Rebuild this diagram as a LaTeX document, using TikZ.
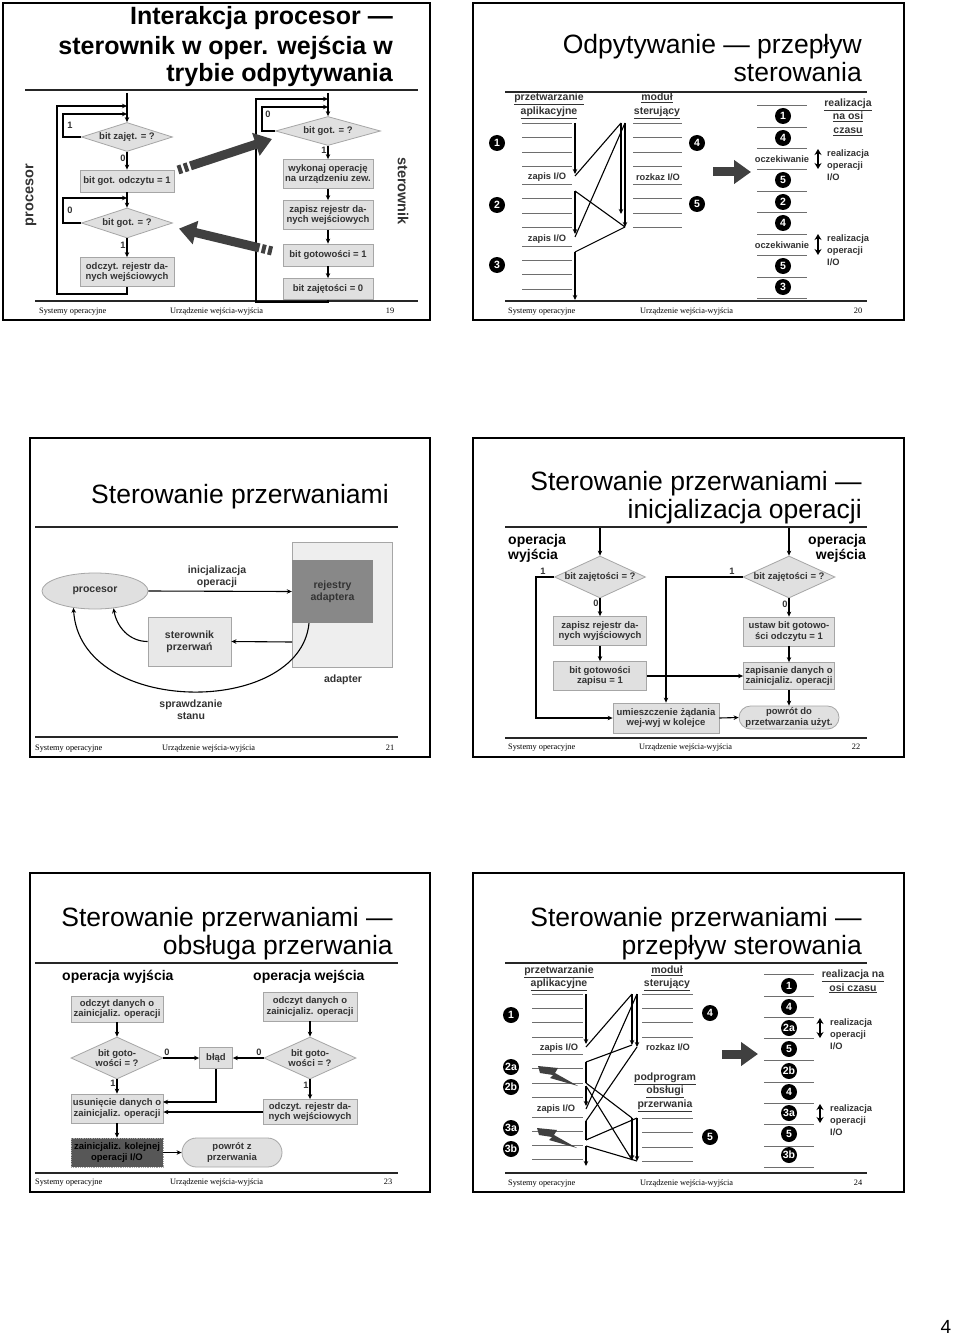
\documentclass[tikz,border=0pt]{standalone}
\usepackage{fontspec}
\setmainfont{Liberation Sans}
\newfontfamily\serifft{Liberation Serif}
\usetikzlibrary{arrows.meta}
\usetikzlibrary{shapes.geometric}
\usetikzlibrary{shapes.misc}

\definecolor{boxfill}{HTML}{E0E0E0}
\definecolor{boxline}{HTML}{A6A6A6}
\definecolor{txtgray}{HTML}{333333}
\definecolor{bigfill}{HTML}{404040}
\definecolor{regfill}{HTML}{888888}
\definecolor{adapfill}{HTML}{EEEEEE}
\definecolor{darkfill}{HTML}{575757}
\definecolor{thinline}{HTML}{6E6E6E}

\newcommand{\ttlfont}{\fontsize{26.5}{28}\selectfont}
\newcommand{\ttlbfont}{\fontsize{25}{28}\selectfont\bfseries}
\newcommand{\ftfont}{\serifft\fontsize{8.3}{9}\selectfont}
\newcommand{\bxfont}{\fontsize{9.5}{10.5}\selectfont\bfseries}
\newcommand{\lblfont}{\fontsize{9.3}{10}\selectfont\bfseries}
\newcommand{\notefont}{\fontsize{9.3}{12}\selectfont\bfseries}
\newcommand{\dotfont}{\fontsize{10.5}{11}\selectfont\bfseries}
\newcommand{\hdrfont}{\fontsize{10.5}{13.5}\selectfont\bfseries}
\newcommand{\sidefont}{\fontsize{14.5}{16}\selectfont\bfseries}
\newcommand{\opfont}{\fontsize{14}{15}\selectfont\bfseries}
\newcommand{\midfont}{\fontsize{10.5}{12}\selectfont\bfseries}

\begin{document}
\begin{tikzpicture}[x=1pt, y=-1pt, >={Stealth[length=5pt, width=4.5pt]},
	frame/.style={draw, line width={1.4pt}},
	rule/.style={draw=black!85, line width={2.8pt}},
	ttl/.style={anchor=base east, inner sep=0pt, font=\ttlfont},
	ttlb/.style={anchor=base east, inner sep=0pt, font=\ttlbfont},
	foot/.style={anchor=base west, inner sep=0pt, font=\ftfont},
	footnum/.style={anchor=base, inner sep=0pt, font=\ftfont},
	box/.style={draw=boxline, fill=boxfill, line width={0.8pt}, inner sep=0pt, align=center, text=txtgray, font=\bxfont},
	dia/.style={box, diamond, aspect=3},
	pill/.style={box, rounded rectangle},
	lbl/.style={inner sep=1pt, text=txtgray, font=\lblfont},
	note/.style={anchor=west, align=left, inner sep=0pt, text=txtgray, font=\notefont},
	mid/.style={align=center, inner sep=0pt, text=txtgray, font=\midfont},
	flow/.style={->, draw, line width={1.1pt}},
	wire/.style={draw, line width={1.1pt}},
	big/.style={draw=bigfill, line width={9pt}, -{Triangle[length=17pt, width=23pt]}},
	bigtail/.style={draw=bigfill, line width={9pt}, dash pattern=on 4pt off 2.5pt},
	tline/.style={draw=thinline, line width={0.7pt}},
	dot/.style={circle, fill=black, text=white, inner sep=0pt, minimum size=16pt, font=\dotfont},
	hdr/.style={align=center, inner sep=0pt, text=txtgray, font=\hdrfont},
	dbl/.style={draw, line width={1.6pt}, {Stealth[length=6pt, width=7pt]}-{Stealth[length=6pt, width=7pt]}},
	side/.style={inner sep=0pt, text=txtgray, font=\sidefont},
	op/.style={inner sep=0pt, font=\opfont},
]
	\fill[white] (0,0) rectangle (960,1340);
	\useasboundingbox (0,0) rectangle (960,1340);

	% slajd 19
	\draw[frame] (3,3) rectangle (430,320);
	\node[ttlb] (s19-t1) at (393,25) {Interakcja procesor —};
	\node[ttlb] (s19-t2) at (393,55) {sterownik w oper. wejścia w};
	\node[ttlb] (s19-t3) at (393,82) {trybie odpytywania};
	\draw[rule] (25,90) -- (418,90);
	\draw[rule] (35,301) -- (418,301);
	\node[foot] (s19-f1) at (39,313) {Systemy operacyjne};
	\node[foot] (s19-f2) at (170,313) {Urządzenie wejścia-wyjścia};
	\node[footnum] (s19-f3) at (390,313) {19};
	\node[side, rotate=90] (s19-proc) at (31,195) {procesor};
	\node[side, rotate=-90] (s19-ster) at (403,191) {sterownik};
	\node[dia, minimum width=91pt, minimum height=29pt] (s19-busy) at (127,137) {bit zajęt. = ?};
	\node[box, minimum width=94pt, minimum height=22pt] (s19-rdy) at (127,181) {bit got. odczytu = 1};
	\node[dia, minimum width=91pt, minimum height=30pt] (s19-got) at (127,223) {bit got. = ?};
	\node[box, minimum width=94pt, minimum height=29pt] (s19-read) at (127,272) {odczyt. rejestr da-\\nych wejściowych};
	\node[dia, minimum width=105pt, minimum height=29pt] (s19-cgot) at (328,131) {bit got. = ?};
	\node[box, minimum width=90pt, minimum height=29pt] (s19-exec) at (328,174) {wykonaj operację\\na urządzeniu zew.};
	\node[box, minimum width=90pt, minimum height=29pt] (s19-wreg) at (328,215) {zapisz rejestr da-\\nych wejściowych};
	\node[box, minimum width=90pt, minimum height=22pt] (s19-gset) at (328,255) {bit gotowości = 1};
	\node[box, minimum width=90pt, minimum height=21pt] (s19-bclr) at (328,289) {bit zajętości = 0};
	\coordinate (s19-top) at (127,93);
	\coordinate (s19-j0) at (127,106);
	\coordinate (s19-j1) at (127,114);
	\coordinate (s19-j2) at (127,198);
	\coordinate (s19-c0) at (57,294);
	\coordinate (s19-c1) at (63,114);
	\coordinate (s19-c2) at (63,198);
	\coordinate (s19-ctop) at (328,93);
	\coordinate (s19-cj0) at (328,99);
	\coordinate (s19-cj1) at (328,107);
	\coordinate (s19-cc0) at (256,302);
	\coordinate (s19-cc1) at (262,107);
	\draw[flow] (s19-top) -- (s19-busy.north);
	\draw[flow] (s19-busy.west) -| (s19-c1) -- (s19-j1);
	\draw[flow] (s19-busy.south) -- node[lbl, left, pos=0.35] {0} (s19-rdy.north);
	\draw[flow] (s19-rdy.south) -- (s19-got.north);
	\draw[flow] (s19-got.west) -| (s19-c2) -- (s19-j2);
	\draw[flow] (s19-got.south) -- node[lbl, left, pos=0.35] {1} (s19-read.north);
	\draw[flow] (s19-read.south) |- (s19-c0) |- (s19-j0);
	\node[lbl] (s19-l1) at (70,125) {1};
	\node[lbl] (s19-l0) at (70,210) {0};
	\draw[flow] (s19-ctop) -- (s19-cgot.north);
	\draw[flow] (s19-cgot.west) -| (s19-cc1) -- (s19-cj1);
	\draw[flow] (s19-cgot.south) -- node[lbl, left, pos=0.35] {1} (s19-exec.north);
	\draw[flow] (s19-exec.south) -- (s19-wreg.north);
	\draw[flow] (s19-wreg.south) -- (s19-gset.north);
	\draw[flow] (s19-gset.south) -- (s19-bclr.north);
	\draw[flow] (s19-bclr.south) |- (s19-cc0) |- (s19-cj0);
	\node[lbl] (s19-l2) at (268,114) {0};
	\coordinate (s19-a1t) at (178,170);
	\coordinate (s19-a1m) at (188,166.7);
	\coordinate (s19-a1s) at (190.4,165.9);
	\coordinate (s19-a1e) at (272,139);
	\coordinate (s19-a2t) at (272,251);
	\coordinate (s19-a2m) at (261.8,248.5);
	\coordinate (s19-a2s) at (259.4,247.9);
	\coordinate (s19-a2e) at (179,228.6);
	\draw[bigtail] (s19-a1t) -- (s19-a1m);
	\draw[big] (s19-a1s) -- (s19-a1e);
	\draw[bigtail] (s19-a2t) -- (s19-a2m);
	\draw[big] (s19-a2s) -- (s19-a2e);

	% slajd 20
	\draw[frame] (473,3) rectangle (904,320);
	\node[ttl] (s20-t1) at (862,54) {Odpytywanie — przepływ};
	\node[ttl] (s20-t2) at (862,82) {sterowania};
	\draw[rule] (505,92) -- (867,92);
	\draw[rule] (505,301) -- (867,301);
	\node[foot] (s20-f1) at (508,313) {Systemy operacyjne};
	\node[foot] (s20-f2) at (640,313) {Urządzenie wejścia-wyjścia};
	\node[footnum] (s20-f3) at (858,313) {20};
	\node[hdr] (s20-app) at (549,106) {\underline{przetwarzanie}\\\underline{aplikacyjne}};
	\node[hdr] (s20-mod) at (657,106) {\underline{moduł}\\\underline{sterujący}};
	\node[hdr] (s20-time) at (848,117) {\underline{realizacja}\\\underline{na osi}\\\underline{czasu}};
	\draw[tline] (522,123) -- (572,123);
	\draw[tline] (522,137) -- (572,137);
	\draw[tline] (522,152) -- (572,152);
	\draw[tline] (522,166) -- (572,166);
	\draw[tline] (522,184) -- (572,184);
	\draw[tline] (522,198) -- (572,198);
	\draw[tline] (522,213) -- (572,213);
	\draw[tline] (522,227) -- (572,227);
	\draw[tline] (522,246) -- (572,246);
	\draw[tline] (522,260) -- (572,260);
	\draw[tline] (522,274) -- (572,274);
	\draw[tline] (522,289) -- (572,289);
	\draw[tline] (633,123) -- (682,123);
	\draw[tline] (633,137) -- (682,137);
	\draw[tline] (633,152) -- (682,152);
	\draw[tline] (633,166) -- (682,166);
	\draw[tline] (633,184) -- (682,184);
	\draw[tline] (633,198) -- (682,198);
	\draw[tline] (633,213) -- (682,213);
	\draw[tline] (633,227) -- (682,227);
	\node[lbl] (s20-w1) at (547,177) {zapis I/O};
	\node[lbl] (s20-w2) at (547,239) {zapis I/O};
	\node[lbl] (s20-cmd) at (658,177) {rozkaz I/O};
	\node[dot] (s20-n1) at (497,143) {1};
	\node[dot] (s20-n2) at (497,205) {2};
	\node[dot] (s20-n3) at (497,265) {3};
	\node[dot] (s20-n4) at (697,143) {4};
	\node[dot] (s20-n5) at (697,204) {5};
	\coordinate (s20-a0) at (575,123);
	\coordinate (s20-a1) at (575,174);
	\coordinate (s20-a2) at (575,176);
	\coordinate (s20-a3) at (575,191);
	\coordinate (s20-a4) at (575,234);
	\coordinate (s20-a5) at (575,237);
	\coordinate (s20-a6) at (575,252);
	\coordinate (s20-a7) at (575,300);
	\coordinate (s20-m0) at (621,123);
	\coordinate (s20-m1) at (621,214);
	\coordinate (s20-m2) at (625,123);
	\coordinate (s20-m3) at (625,227);
	\draw[flow] (s20-a0) -- (s20-a1);
	\draw[wire] (s20-a2) -- (s20-m0);
	\draw[flow] (s20-m0) -- (s20-m1);
	\draw[wire] (s20-m3) -- (s20-a3);
	\draw[flow] (s20-a3) -- (s20-a4);
	\draw[wire] (s20-a5) -- (s20-m2);
	\draw[flow] (s20-m2) -- (s20-m3);
	\draw[wire] (s20-m3) -- (s20-a6);
	\draw[flow] (s20-a6) -- (s20-a7);
	\coordinate (s20-bs) at (713,172);
	\coordinate (s20-be) at (751,172);
	\draw[big] (s20-bs) -- (s20-be);
	\draw[tline] (757,105) -- (807,105);
	\draw[tline] (757,127) -- (807,127);
	\draw[tline] (757,148) -- (807,148);
	\draw[tline] (757,169) -- (807,169);
	\draw[tline] (757,191) -- (807,191);
	\draw[tline] (757,212) -- (807,212);
	\draw[tline] (757,234) -- (807,234);
	\draw[tline] (757,255) -- (807,255);
	\draw[tline] (757,277) -- (807,277);
	\draw[tline] (757,298) -- (807,298);
	\node[dot] (s20-r1) at (783,116) {1};
	\node[dot] (s20-r2) at (783,138) {4};
	\node[lbl] (s20-wait1) at (782,159) {oczekiwanie};
	\node[dot] (s20-r3) at (783,180) {5};
	\node[dot] (s20-r4) at (783,202) {2};
	\node[dot] (s20-r5) at (783,223) {4};
	\node[lbl] (s20-wait2) at (782,245) {oczekiwanie};
	\node[dot] (s20-r6) at (783,266) {5};
	\node[dot] (s20-r7) at (783,287) {3};
	\coordinate (s20-d1a) at (818,149);
	\coordinate (s20-d1b) at (818,169);
	\coordinate (s20-d2a) at (818,234);
	\coordinate (s20-d2b) at (818,255);
	\draw[dbl] (s20-d1a) -- (s20-d1b);
	\draw[dbl] (s20-d2a) -- (s20-d2b);
	\node[note] (s20-io1) at (827,165) {realizacja\\operacji\\I/O};
	\node[note] (s20-io2) at (827,250) {realizacja\\operacji\\I/O};

	% slajd 21
	\draw[frame] (30,438) rectangle (430,757);
	\node[ttl, anchor=base] (s21-t1) at (240,503) {Sterowanie przerwaniami};
	\draw[rule] (35,527) -- (398,527);
	\draw[rule] (35,737) -- (398,737);
	\node[foot] (s21-f1) at (35,750) {Systemy operacyjne};
	\node[foot] (s21-f2) at (162,750) {Urządzenie wejścia-wyjścia};
	\node[footnum] (s21-f3) at (390,750) {21};
	\node[ellipse, draw=boxline, fill=boxfill, line width={0.8pt}, minimum width=106pt, minimum height=36pt, inner sep=0pt, text=txtgray, font=\midfont] (s21-cpu) at (95,591) {procesor};
	\node[draw=boxline, fill=adapfill, line width={0.8pt}, minimum width=100pt, minimum height=125pt, inner sep=0pt] (s21-adp) at (342,604.5) {};
	\node[mid, fill=regfill, minimum width=81pt, minimum height=63pt, text=black!80] (s21-reg) at (332.5,591.5) {rejestry\\adaptera};
	\node[box, fill=black!9, font=\midfont, minimum width=83pt, minimum height=49pt] (s21-irq) at (189.5,641.5) {sterownik\\przerwań};
	\node[mid] (s21-adl) at (343,680) {adapter};
	\node[mid] (s21-ini) at (217,577) {inicjalizacja\\operacji};
	\node[mid] (s21-chk) at (191,710) {sprawdzanie\\stanu};
	\coordinate (s21-out) at (292,642);
	\draw[flow] (s21-cpu.east) -- (s21-reg.west);
	\draw[flow] (s21-out) -- (s21-irq.east);
	\draw[flow] (s21-irq.west) to[out=180, in=-80] (s21-cpu.-43);
	\draw[flow] ([xshift=-23.5pt]s21-reg.south) .. controls (300,717) and (80,717) .. (s21-cpu.-142);

	% slajd 22
	\draw[frame] (473,438) rectangle (904,757);
	\node[ttl] (s22-t1) at (862,490) {Sterowanie przerwaniami —};
	\node[ttl] (s22-t2) at (862,518) {inicjalizacja operacji};
	\draw[rule] (505,527) -- (867,527);
	\draw[rule] (505,738) -- (867,738);
	\node[foot] (s22-f1) at (508,749) {Systemy operacyjne};
	\node[foot] (s22-f2) at (639,749) {Urządzenie wejścia-wyjścia};
	\node[footnum] (s22-f3) at (856,749) {22};
	\node[op, anchor=west, align=left] (s22-out) at (508,548) {operacja\\wyjścia};
	\node[op, anchor=east, align=right] (s22-in) at (866,548) {operacja\\wejścia};
	\node[dia, aspect=2.2, minimum width=91pt, minimum height=42pt] (s22-lq) at (600,577) {bit zajętości = ?};
	\node[box, minimum width=93pt, minimum height=29pt] (s22-lwr) at (600,631) {zapisz rejestr da-\\nych wyjściowych};
	\node[box, minimum width=93pt, minimum height=29pt] (s22-lset) at (600,676) {bit gotowości\\zapisu = 1};
	\node[box, minimum width=106pt, minimum height=30pt] (s22-queue) at (666,718) {umieszczenie żądania\\wej-wyj w kolejce};
	\node[dia, aspect=2.2, minimum width=92pt, minimum height=42pt] (s22-rq) at (789,577) {bit zajętości = ?};
	\node[box, minimum width=91pt, minimum height=29pt] (s22-rset) at (789,631.5) {ustaw bit gotowo-\\ści odczytu = 1};
	\node[box, minimum width=91pt, minimum height=27pt] (s22-rsave) at (789,676) {zapisanie danych o\\zainicjaliz. operacji};
	\node[pill, minimum width=100pt, minimum height=23pt] (s22-ret) at (789,717.5) {powrót do\\przetwarzania użyt.};
	\coordinate (s22-lin) at (600,528);
	\coordinate (s22-rin) at (789,528);
	\coordinate (s22-c1) at (536,577);
	\draw[flow] (s22-lin) -- (s22-lq.north);
	\draw[flow] (s22-lq.west) -- (s22-c1) |- (s22-queue.west);
	\node[lbl] (s22-l1) at (543,571) {1};
	\draw[flow] (s22-lq.south) -- node[lbl, left, pos=0.3] {0} (s22-lwr.north);
	\draw[flow] (s22-lwr.south) -- (s22-lset.north);
	\draw[flow] (s22-lset.east) -- (s22-rsave.west);
	\draw[flow] (s22-rin) -- (s22-rq.north);
	\draw[flow] (s22-rq.west) -| (s22-queue.north);
	\node[lbl] (s22-l2) at (732,571) {1};
	\draw[flow] (s22-rq.south) -- node[lbl, left, pos=0.3] {0} (s22-rset.north);
	\draw[flow] (s22-rset.south) -- (s22-rsave.north);
	\draw[flow] (s22-rsave.south) -- (s22-ret.north);
	\draw[flow] (s22-queue.east) -- (s22-ret.west);

	% slajd 23
	\draw[frame] (30,873) rectangle (430,1192);
	\node[ttl] (s23-t1) at (393,926) {Sterowanie przerwaniami —};
	\node[ttl] (s23-t2) at (393,954) {obsługa przerwania};
	\draw[rule] (35,963) -- (398,963);
	\draw[rule] (35,1173) -- (398,1173);
	\node[foot] (s23-f1) at (35,1184) {Systemy operacyjne};
	\node[foot] (s23-f2) at (170,1184) {Urządzenie wejścia-wyjścia};
	\node[footnum] (s23-f3) at (388,1184) {23};
	\node[op, anchor=west] (s23-out) at (62,977) {operacja wyjścia};
	\node[op, anchor=west] (s23-in) at (253,977) {operacja wejścia};
	\node[box, minimum width=92pt, minimum height=26pt] (s23-lread) at (117,1009) {odczyt danych o\\zainicjaliz. operacji};
	\node[dia, aspect=2.2, minimum width=92pt, minimum height=42pt] (s23-lq) at (117,1058) {bit goto-\\wości = ?};
	\node[box, minimum width=33pt, minimum height=21pt] (s23-err) at (216,1058) {błąd};
	\node[box, minimum width=92pt, minimum height=29pt] (s23-ldel) at (117,1108.5) {usunięcie danych o\\zainicjaliz. operacji};
	\node[box, fill=darkfill, draw=gray!70, densely dotted, text=black, minimum width=92pt, minimum height=29pt] (s23-next) at (117,1152.5) {zainicjaliz. kolejnej\\operacji I/O};
	\node[pill, minimum width=100pt, minimum height=29pt] (s23-ret) at (232,1152.5) {powrót z\\przerwania};
	\node[box, minimum width=94pt, minimum height=29pt] (s23-rread) at (310,1006.5) {odczyt danych o\\zainicjaliz. operacji};
	\node[dia, aspect=2.2, minimum width=92pt, minimum height=42pt] (s23-rq) at (310,1058) {bit goto-\\wości = ?};
	\node[box, minimum width=94pt, minimum height=25pt] (s23-rget) at (310,1112) {odczyt. rejestr da-\\nych wejściowych};
	\coordinate (s23-d1) at (163,1102);
	\draw[flow] (s23-lread.south) -- (s23-lq.north);
	\draw[flow] (s23-lq.east) -- (s23-err.west);
	\node[lbl] (s23-l0) at (167,1052) {0};
	\draw[flow] (s23-lq.south) -- node[lbl, left, pos=0.3] {1} (s23-ldel.north);
	\draw[flow] (s23-err.south) |- (s23-d1);
	\draw[flow] (s23-rget.west) -- (s23-rget.west -| s23-ldel.east);
	\draw[flow] (s23-ldel.south) -- (s23-next.north);
	\draw[flow] (s23-next.east) -- (s23-ret.west);
	\draw[flow] (s23-rread.south) -- (s23-rq.north);
	\draw[flow] (s23-rq.west) -- (s23-err.east);
	\node[lbl] (s23-l2) at (259,1052) {0};
	\draw[flow] (s23-rq.south) -- node[lbl, left, pos=0.3] {1} (s23-rget.north);

	% slajd 24
	\draw[frame] (473,873) rectangle (904,1192);
	\node[ttl] (s24-t1) at (862,926) {Sterowanie przerwaniami —};
	\node[ttl] (s24-t2) at (862,954) {przepływ sterowania};
	\draw[rule] (505,963) -- (867,963);
	\draw[rule] (505,1173) -- (867,1173);
	\node[foot] (s24-f1) at (508,1185) {Systemy operacyjne};
	\node[foot] (s24-f2) at (640,1185) {Urządzenie wejścia-wyjścia};
	\node[footnum] (s24-f3) at (858,1185) {24};
	\node[hdr] (s24-app) at (559,978.5) {\underline{przetwarzanie}\\\underline{aplikacyjne}};
	\node[hdr] (s24-mod) at (667,978.5) {\underline{moduł}\\\underline{sterujący}};
	\node[hdr] (s24-isr) at (665,1092) {\underline{podprogram}\\\underline{obsługi}\\\underline{przerwania}};
	\node[hdr] (s24-time) at (853,981.5) {\underline{realizacja na}\\\underline{osi czasu}};
	\draw[tline] (532,994) -- (583,994);
	\draw[tline] (532,1008) -- (583,1008);
	\draw[tline] (532,1022) -- (583,1022);
	\draw[tline] (532,1037) -- (583,1037);
	\draw[tline] (532,1054) -- (583,1054);
	\draw[tline] (532,1068) -- (583,1068);
	\draw[tline] (532,1083) -- (583,1083);
	\draw[tline] (532,1097) -- (583,1097);
	\draw[tline] (532,1117) -- (583,1117);
	\draw[tline] (532,1131) -- (583,1131);
	\draw[tline] (532,1145) -- (583,1145);
	\draw[tline] (532,1159) -- (583,1159);
	\draw[tline] (642,994) -- (693,994);
	\draw[tline] (642,1008) -- (693,1008);
	\draw[tline] (642,1022) -- (693,1022);
	\draw[tline] (642,1037) -- (693,1037);
	\draw[tline] (642,1118) -- (693,1118);
	\draw[tline] (642,1132) -- (693,1132);
	\draw[tline] (642,1147) -- (693,1147);
	\draw[tline] (642,1161) -- (693,1161);
	\node[lbl] (s24-w1) at (559,1048) {zapis I/O};
	\node[lbl] (s24-w2) at (556,1109) {zapis I/O};
	\node[lbl] (s24-cmd) at (668,1047) {rozkaz I/O};
	\node[dot] (s24-n1) at (511,1015) {1};
	\node[dot] (s24-n2a) at (511,1067) {2a};
	\node[dot] (s24-n2b) at (511,1087) {2b};
	\node[dot] (s24-n3a) at (511,1128) {3a};
	\node[dot] (s24-n3b) at (511,1149) {3b};
	\node[dot] (s24-n4) at (710,1013) {4};
	\node[dot] (s24-n5) at (710,1137) {5};
	\fill[bigfill] (538,1066) -- (558,1068) -- (555,1073) -- (578,1086) -- (550,1078) -- (553,1075) -- (540,1073) -- cycle;
	\fill[bigfill] (537,1128) -- (557,1130) -- (554,1135) -- (577,1148) -- (549,1140) -- (552,1137) -- (539,1135) -- cycle;
	\coordinate (s24-a0) at (586,994);
	\coordinate (s24-a1) at (586,1044);
	\coordinate (s24-a2) at (586,1047);
	\coordinate (s24-a3) at (586,1062);
	\coordinate (s24-a4) at (586,1083);
	\coordinate (s24-a5) at (586,1086);
	\coordinate (s24-a6) at (586,1106);
	\coordinate (s24-a7) at (586,1109);
	\coordinate (s24-a8) at (586,1121);
	\coordinate (s24-a9) at (586,1140);
	\coordinate (s24-a10) at (586,1146);
	\coordinate (s24-a11) at (586,1166);
	\coordinate (s24-m0) at (632,994);
	\coordinate (s24-m1) at (632,1045);
	\coordinate (s24-m2) at (637,994);
	\coordinate (s24-m3) at (637,1047);
	\coordinate (s24-h0) at (632,1118);
	\coordinate (s24-h1) at (632,1160);
	\coordinate (s24-h2) at (637,1118);
	\coordinate (s24-h3) at (637,1161);
	\draw[flow] (s24-a0) -- (s24-a1);
	\draw[wire] (s24-a2) -- (s24-m0);
	\draw[flow] (s24-m0) -- (s24-m1);
	\draw[wire] (s24-m1) -- (s24-a3);
	\draw[wire] (s24-a3) -- (s24-a4);
	\draw[wire] (s24-a4) -- (s24-h0);
	\draw[flow] (s24-h0) -- (s24-h1);
	\draw[wire] (s24-h1) -- (s24-a5);
	\draw[flow] (s24-a5) -- (s24-a6);
	\draw[wire] (s24-a7) -- (s24-m2);
	\draw[flow] (s24-m2) -- (s24-m3);
	\draw[wire] (s24-m3) -- (s24-a8);
	\draw[wire] (s24-a8) -- (s24-a9);
	\draw[wire] (s24-a9) -- (s24-h2);
	\draw[flow] (s24-h2) -- (s24-h3);
	\draw[wire] (s24-h3) -- (s24-a10);
	\draw[flow] (s24-a10) -- (s24-a11);
	\coordinate (s24-bs) at (722,1054);
	\coordinate (s24-be) at (758,1054);
	\draw[big] (s24-bs) -- (s24-be);
	\draw[tline] (764,974) -- (814,974);
	\draw[tline] (764,996) -- (814,996);
	\draw[tline] (764,1017) -- (814,1017);
	\draw[tline] (764,1038) -- (814,1038);
	\draw[tline] (764,1060) -- (814,1060);
	\draw[tline] (764,1082) -- (814,1082);
	\draw[tline] (764,1103) -- (814,1103);
	\draw[tline] (764,1124) -- (814,1124);
	\draw[tline] (764,1146) -- (814,1146);
	\draw[tline] (764,1167) -- (814,1167);
	\node[dot] (s24-r1) at (789,986) {1};
	\node[dot] (s24-r2) at (789,1007) {4};
	\node[dot] (s24-r3) at (789,1028) {2a};
	\node[dot] (s24-r4) at (789,1049) {5};
	\node[dot] (s24-r5) at (789,1071) {2b};
	\node[dot] (s24-r6) at (789,1092) {4};
	\node[dot] (s24-r7) at (789,1113) {3a};
	\node[dot] (s24-r8) at (789,1134) {5};
	\node[dot] (s24-r9) at (789,1155) {3b};
	\coordinate (s24-d1a) at (820,1018);
	\coordinate (s24-d1b) at (820,1038);
	\coordinate (s24-d2a) at (820,1104);
	\coordinate (s24-d2b) at (820,1123);
	\draw[dbl] (s24-d1a) -- (s24-d1b);
	\draw[dbl] (s24-d2a) -- (s24-d2b);
	\node[note] (s24-io1) at (830,1034) {realizacja\\operacji\\I/O};
	\node[note] (s24-io2) at (830,1120) {realizacja\\operacji\\I/O};

	\node[font=\fontsize{19}{20}\selectfont] (page) at (946,1327) {4};
\end{tikzpicture}
\end{document}
